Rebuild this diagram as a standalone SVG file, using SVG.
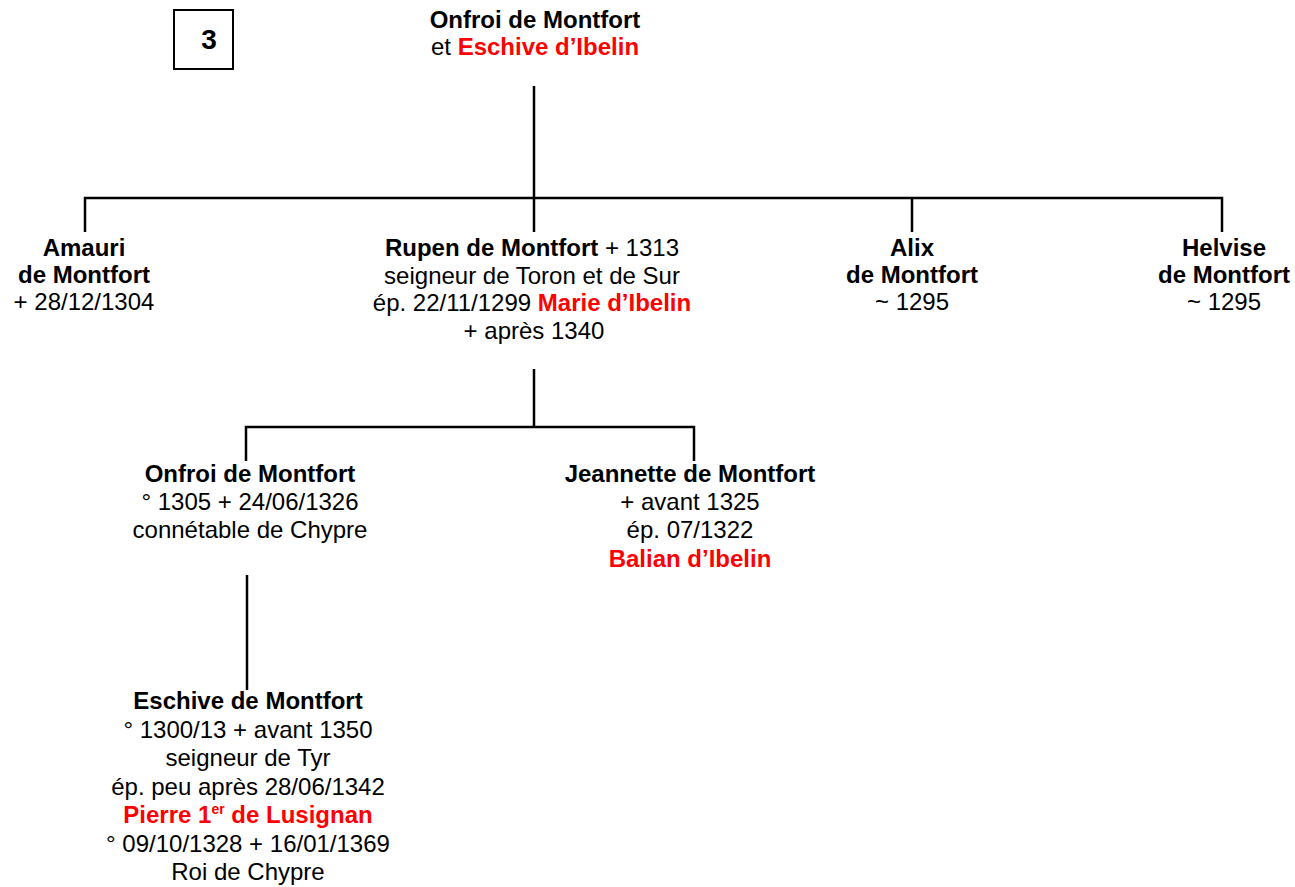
<svg xmlns="http://www.w3.org/2000/svg" width="1295" height="887" viewBox="0 0 1295 887">
<style>
  text { font-family: "Liberation Sans", Arial, sans-serif; font-size: 24px; fill: #000; text-anchor: middle; }
  .b { font-weight: bold; }
  .r { fill: #ff0000; font-weight: bold; }
  .sup { font-size: 14px; }
  .line { stroke: #000; stroke-width: 2.5; fill: none; }
</style>
<rect width="1295" height="887" fill="#fff"/>
<g id="label-box">
  <rect x="174" y="10" width="59" height="59" fill="none" stroke="#000" stroke-width="2"/>
  <text x="209" y="49" class="b" style="font-size:28px">3</text>
</g>
<g id="connectors">
  <path class="line" d="M534 86 V198 M85 232 V198 H1222 V232 M534 198 V232 M912 198 V232"/>
  <path class="line" d="M534 369 V427 M246 461 V427 H694 V461"/>
  <path class="line" d="M247 575 V690"/>
</g>
<g id="n-parents">
  <text x="535" y="28" class="b">Onfroi de Montfort</text>
  <text x="535" y="55">et <tspan class="r">Eschive d’Ibelin</tspan></text>
</g>
<g id="n-amauri">
  <text x="84" y="256" class="b">Amauri</text>
  <text x="84" y="283" class="b">de Montfort</text>
  <text x="84" y="310">+ 28/12/1304</text>
</g>
<g id="n-rupen">
  <text x="532" y="256"><tspan class="b">Rupen de Montfort</tspan> + 1313</text>
  <text x="532" y="283.5">seigneur de Toron et de Sur</text>
  <text x="532" y="311">ép. 22/11/1299 <tspan class="r">Marie d’Ibelin</tspan></text>
  <text x="534" y="338.5">+ après 1340</text>
</g>
<g id="n-alix">
  <text x="912" y="256" class="b">Alix</text>
  <text x="912" y="283" class="b">de Montfort</text>
  <text x="912" y="310">~ 1295</text>
</g>
<g id="n-helvise">
  <text x="1224" y="256" class="b">Helvise</text>
  <text x="1224" y="283" class="b">de Montfort</text>
  <text x="1224" y="310">~ 1295</text>
</g>
<g id="n-onfroi2">
  <text x="250" y="482" class="b">Onfroi de Montfort</text>
  <text x="250" y="510">° 1305 + 24/06/1326</text>
  <text x="250" y="538">connétable de Chypre</text>
</g>
<g id="n-jeannette">
  <text x="690" y="482" class="b">Jeannette de Montfort</text>
  <text x="690" y="510">+ avant 1325</text>
  <text x="690" y="538">ép. 07/1322</text>
  <text x="690" y="567" class="r">Balian d’Ibelin</text>
</g>
<g id="n-eschive">
  <text x="248" y="709" class="b">Eschive de Montfort</text>
  <text x="248" y="737.5">° 1300/13 + avant 1350</text>
  <text x="248" y="766">seigneur de Tyr</text>
  <text x="248" y="794.5">ép. peu après 28/06/1342</text>
  <text x="248" y="823" class="r">Pierre 1<tspan class="sup" dy="-9">er</tspan><tspan dy="9"> de Lusignan</tspan></text>
  <text x="248" y="851.5">° 09/10/1328 + 16/01/1369</text>
  <text x="248" y="880">Roi de Chypre</text>
</g>
</svg>
